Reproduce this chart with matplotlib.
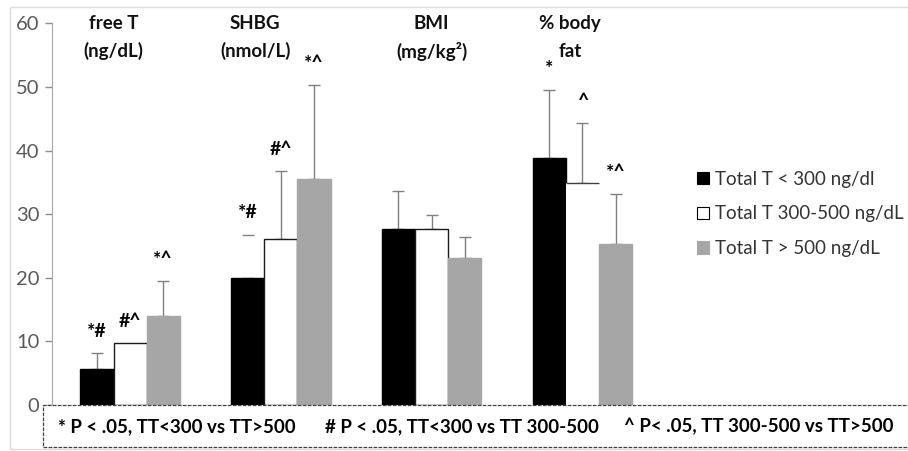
import matplotlib.pyplot as plt
from matplotlib.patches import Rectangle, Patch
import numpy as np

plt.rcParams['font.family'] = ['Lato', 'DejaVu Sans']

categories = ['free T\n(ng/dL)', 'SHBG\n(nmol/L)', 'BMI\n(mg/kg²)', '% body\nfat']
series = ['Total T < 300 ng/dl', 'Total T 300-500 ng/dL', 'Total T > 500 ng/dL']
low = [5.7, 20.0, 27.6, 38.9]
low_sd = [2.5, 6.8, 6.1, 10.6]
mid = [9.7, 26.1, 27.7, 34.9]
mid_sd = [0.0, 10.7, 2.1, 9.4]
high = [14.0, 35.6, 23.1, 25.3]
high_sd = [5.5, 14.7, 3.3, 7.9]
low_sig = ['*#', '*#', '', '*']
mid_sig = ['#^', '#^', '', '^']
high_sig = ['*^', '*^', '', '*^']
footnotes = ['* P < .05, TT<300 vs TT>500', '# P < .05, TT<300 vs TT 300-500',
             '^ P< .05, TT 300-500 vs TT>500']

W, H = 908, 451
fig = plt.figure(figsize=(W / 100, H / 100), dpi=100)
ax = fig.add_axes([52 / W, 1 - 405 / H, 1 - 52 / W, (405 - 23.3) / H])

x = np.arange(len(categories))
width = 0.22
offsets = [-0.22, 0.0, 0.22]
label_shift = [-0.11, -0.17, 0.0, -0.08]
means = [low, mid, high]
sds = [low_sd, mid_sd, high_sd]
sigs = [low_sig, mid_sig, high_sig]
faces = ['black', 'white', '#a6a6a6']
edges = ['black', '#1a1a1a', '#a6a6a6']

for s in range(3):
    for i in range(len(categories)):
        xi = x[i] + offsets[s]
        m, sd = means[s][i], sds[s][i]
        if s == 1 and i == 3:
            # this bar only shows its top edge in the original
            ax.bar(xi, m, width, color='white', linewidth=0, zorder=2)
            ax.hlines(m, xi - width / 2, xi + width / 2, color='#404040', lw=1, zorder=3)
        else:
            ax.bar(xi, m, width, color=faces[s], edgecolor=edges[s], linewidth=1, zorder=2)
        if sd > 0:
            eb = ax.errorbar(xi, m, yerr=[[0], [sd]], fmt='none', ecolor='#808080',
                             elinewidth=1, capsize=4.5, capthick=1, zorder=1)
            if s == 0 and i == 1:
                eb[2][0].set_visible(False)
        if sigs[s][i]:
            ax.text(xi, m + sd + 3.4, sigs[s][i], ha='center', va='center',
                    fontsize=14, fontweight='bold', color='black')

for i, cat in enumerate(categories):
    lines = cat.split('\n')
    ax.text(x[i] + label_shift[i], 60, lines[0], ha='center', va='center', fontsize=13.5,
            fontweight='bold', color='#111111', clip_on=False)
    ax.text(x[i] + label_shift[i], 55.6, lines[1], ha='center', va='center', fontsize=13.5,
            fontweight='bold', color='#111111', clip_on=False)

ax.set_xlim(-0.518, 5.16)
ax.set_ylim(0, 60)
ax.set_yticks(range(0, 61, 10))
ax.tick_params(axis='y', colors='#8c8c8c', labelcolor='#595959', labelsize=14.5,
               length=5, width=1, pad=4)
ax.set_xticks([])
for side in ['top', 'right', 'bottom']:
    ax.spines[side].set_visible(False)
ax.spines['left'].set_color('#a6a6a6')

handles = [Patch(facecolor=faces[s], edgecolor='black' if s < 2 else '#a6a6a6', lw=0.8)
           for s in range(3)]
fig.legend(handles, series, loc='center left', bbox_to_anchor=(680 / W, 1 - 214 / H),
           frameon=False, fontsize=13.5, handlelength=0.65, handleheight=0.65,
           handletextpad=0.3, labelspacing=0.95, labelcolor='#333333')

# footnote box below the axis
fig.patches.append(Rectangle((43 / W, 1 - 447 / H), 1, 42 / H, transform=fig.transFigure,
                             facecolor='white', edgecolor='#404040', lw=0.9,
                             linestyle=(0, (3, 1))))
for xs, t in zip([58, 325, 624], footnotes):
    fig.text(xs / W, 1 - 427 / H, t, ha='left', va='center', fontsize=13.5,
             fontweight='bold', color='black')

# faint chart-area border
fig.patches.append(Rectangle((10 / W, 2 / H), 1, 1 - 9 / H, transform=fig.transFigure,
                             fill=False, edgecolor='#dcdcdc', lw=1, zorder=-1))

fig.savefig('out.png', dpi=100)
